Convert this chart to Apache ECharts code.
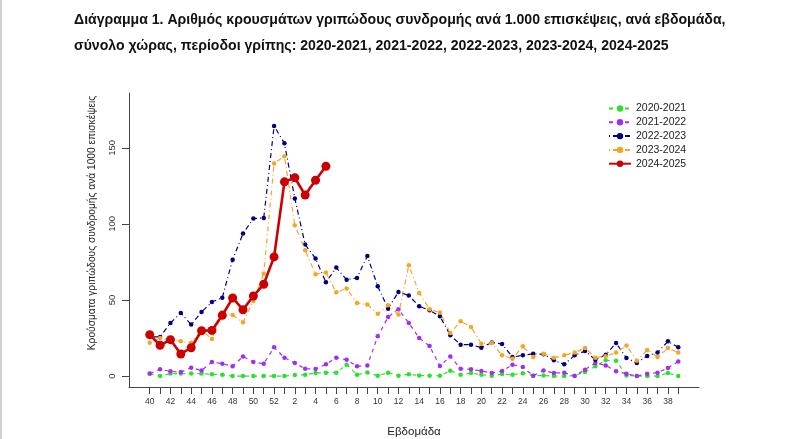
<!DOCTYPE html>
<html>
<head>
<meta charset="utf-8">
<script src="https://cdn.jsdelivr.net/npm/echarts@6/dist/echarts.min.js"></script>
<style>
html,body{margin:0;padding:0;background:#fff;}
#chart{width:800px;height:439px;}
</style>
</head>
<body>
<div id="chart"></div>
<script>
// Week labels (flu season week 40 .. week 39)
const weeks = ['40','41','42','43','44','45','46','47','48','49','50','51','52',
  '1','2','3','4','5','6','7','8','9','10','11','12','13','14','15','16','17','18','19','20',
  '21','22','23','24','25','26','27','28','29','30','31','32','33','34','35','36','37','38','39'];

const s2020 = [1.5,0,1.6,1.6,1.6,1.6,1.1,0.9,0,0,0,0,0,0,0.7,0.9,2,2.2,2.2,7.5,0.9,2.4,0.2,2.2,0.2,1.1,0.4,0.2,0.2,3.5,0.9,2,0.9,0.2,1.3,0.9,1.8,0.2,0.4,0,0,0.2,2.6,6.4,10.3,10.1,0.4,0,0,0,2,0];
const s2021 = [1.6,4.4,3.1,2.6,5.5,3.7,9.2,8.1,6.4,12.9,9.2,8.1,18.9,12.1,8.6,4.8,4.6,7.7,12.1,10.7,6.4,7,26.1,38.8,43.9,34.9,25,19.7,6.6,12.9,4.8,4.4,3.3,2,3.3,7.5,5.9,0.2,3.7,2,2.2,0,4.2,8.6,7,3.1,1.5,0,1.5,2.2,5.3,9.6];
const s2022 = [25.7,25.7,34.9,41.4,33.8,42.1,48.7,51.5,76.5,93.6,103.5,103.9,164.3,152.9,116.7,86.4,77.2,61.6,71.3,63.3,64.5,78.9,59,44.3,55.3,52.9,45.8,43.2,39.3,26.8,20.6,20.6,18.6,22.1,21,12.5,13.6,14.7,14.3,10.3,7.7,13.6,16.4,10.7,14,21.7,11.8,8.6,13.2,15.4,22.8,18.9];
const s2023 = [21.9,25,23.7,22.8,21.9,30,24.3,41.9,40.1,35.3,49.3,67.3,139.7,144.5,99.1,82.7,66.9,68,55,57.5,48,47,41,46.5,40.4,72.8,54.6,43.9,41.7,28.3,36,32.2,21.3,21.7,13.6,11.4,19.5,12.5,14.7,12,13.6,15.4,18.4,12.1,13,15.4,20,10.1,17.1,12.5,18.4,15.4];
const s2024 = [27.2,20.2,23.9,14.5,18.6,29.8,30.0,39.9,51.3,43.6,52.6,60.3,78.3,127.6,130.3,118.9,128.7,137.9];

const seasonNames = ['2020-2021','2021-2022','2022-2023','2023-2024','2024-2025'];
const yTicks = [0,50,100,150];

const titleLine1 = 'Διάγραμμα 1. Αριθμός κρουσμάτων γριπώδους συνδρομής ανά 1.000 επισκέψεις, ανά εβδομάδα,';
const titleLine2 = 'σύνολο χώρας, περίοδοι γρίπης: 2020-2021, 2021-2022, 2022-2023, 2023-2024, 2024-2025';
const yTitle = 'Κρούσματα γριπώδους συνδρομής ανά 1000 επισκέψεις';
const xTitle = 'Εβδομάδα';

const toPairs = arr => arr.map((v, i) => [i, v]);
const allIdx = weeks.map((w, i) => i);
const labelIdx = allIdx.filter(i => i % 2 === 0 && i <= 50);

const styles = [
  {color:'#2ee02e', type:[4,4], width:1.2, size:4.5},
  {color:'#a030f0', type:[4,4], width:1.2, size:4.5},
  {color:'#000080', type:[1,3,5,3], width:1.2, size:4.5},
  {color:'#f5a623', type:[1,3,5,3], width:1.2, size:4.5},
  {color:'#cc0000', type:'solid', width:2.6, size:9}
];
const datasets = [s2020, s2021, s2022, s2023, s2024];

const chart = echarts.init(document.getElementById('chart'), null, {renderer:'canvas'});
const FONT = '"Liberation Sans", Arial, sans-serif';
const TFONT = 'bold 14.1px "Liberation Sans Narrow", "Liberation Sans", sans-serif';

chart.setOption({
  animation: false,
  backgroundColor: '#fff',
  grid: {left: 129, right: 101, top: 93, bottom: 52, containLabel: false, outerBoundsMode: 'none'},
  xAxis: {
    type: 'value', min: -2, max: 53,
    axisLine: {show: true, onZero: false, lineStyle: {color: '#444', width: 1}},
    axisTick: {show: true, length: 7, lineStyle: {color: '#444'}, customValues: allIdx},
    axisLabel: {show: true, margin: 10, fontSize: 8.5, color: '#333', fontFamily: FONT,
      customValues: labelIdx, formatter: v => weeks[Math.round(v)]},
    splitLine: {show: false},
    name: xTitle, nameLocation: 'middle', nameGap: 39,
    nameTextStyle: {fontSize: 11.5, color: '#222', fontFamily: FONT}
  },
  yAxis: {
    type: 'value', min: -7.2, max: 186,
    axisLine: {show: true, onZero: false, lineStyle: {color: '#444', width: 1}},
    axisTick: {show: true, length: 7, lineStyle: {color: '#444'}, customValues: yTicks},
    axisLabel: {show: true, rotate: 90, margin: 12, fontSize: 9.5, color: '#333', fontFamily: FONT,
      customValues: yTicks},
    splitLine: {show: false}
  },
  legend: {
    orient: 'vertical', left: 603, top: 98,
    itemWidth: 22, itemHeight: 8, itemGap: 2.8,
    textStyle: {fontSize: 10.5, color: '#222', fontFamily: FONT},
    data: seasonNames
  },
  graphic: [
    {type:'rect', left: 0, top: 0, shape:{width: 2, height: 439}, style:{fill:'#d0d0d0'}},
    {type:'text', left: 74, top: 13, style:{text: titleLine1, font: TFONT, fill:'#111'}},
    {type:'text', left: 74, top: 39, style:{text: titleLine2, font: TFONT, fill:'#111'}},
    {type:'text', x: 92, y: 223, rotation: Math.PI/2,
      style:{text: yTitle, font: '10.2px "Liberation Sans", Arial, sans-serif', fill:'#222', align:'center', verticalAlign:'middle'}}
  ],
  series: datasets.map((d, k) => ({
    name: seasonNames[k], type: 'line', data: toPairs(d),
    symbol: 'circle', symbolSize: styles[k].size, showSymbol: true,
    itemStyle: {color: styles[k].color},
    lineStyle: {color: styles[k].color, width: styles[k].width, type: styles[k].type},
    z: 2 + k
  }))
});
</script>
</body>
</html>
